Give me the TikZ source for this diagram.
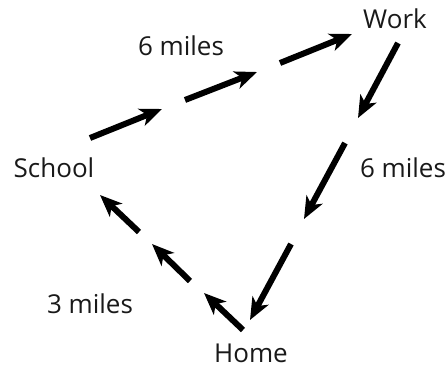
\documentclass[tikz,border=0pt]{standalone}
\usepackage{fontspec}
\setmainfont{Open Sans}
\usetikzlibrary{arrows.meta}
\tikzset{
  lbl/.style={font=\fontsize{26}{30}\selectfont, text=black!90, inner sep=0pt, anchor=base},
  seg/.style={line width=6pt, -{Stealth[length=22pt,width=18pt,inset=6pt]}}
}
\begin{document}
\begin{tikzpicture}[x=1pt,y=-1pt]
\useasboundingbox (0,0) rectangle (447,367);
\node[lbl] (work) at (395,28) {Work};
\node[lbl] (school) at (54,177) {School};
\node[lbl] (home) at (251,362) {Home};
\node[lbl] (l1) at (181,55) {6 miles};
\node[lbl] (l2) at (403,177) {6 miles};
\node[lbl] (l3) at (90,313) {3 miles};
% top edge: school -> work
\coordinate (a1) at (90,138);  \coordinate (a2) at (162,109);
\coordinate (a3) at (185,100); \coordinate (a4) at (257,72);
\coordinate (a5) at (280,63);  \coordinate (a6) at (352,34);
% right edge: work -> home
\coordinate (b1) at (398,43);  \coordinate (b2) at (358,118);
\coordinate (b3) at (345,143); \coordinate (b4) at (304,219);
\coordinate (b5) at (291,244); \coordinate (b6) at (250,320);
% bottom-left edge: home -> school
\coordinate (c1) at (243,330); \coordinate (c2) at (204,293);
\coordinate (c3) at (190,281); \coordinate (c4) at (152,244);
\coordinate (c5) at (139,232); \coordinate (c6) at (100,195);
\draw[seg] (a1) -- (a2);
\draw[seg] (a3) -- (a4);
\draw[seg] (a5) -- (a6);
\draw[seg] (b1) -- (b2);
\draw[seg] (b3) -- (b4);
\draw[seg] (b5) -- (b6);
\draw[seg] (c1) -- (c2);
\draw[seg] (c3) -- (c4);
\draw[seg] (c5) -- (c6);
\end{tikzpicture}
\end{document}
